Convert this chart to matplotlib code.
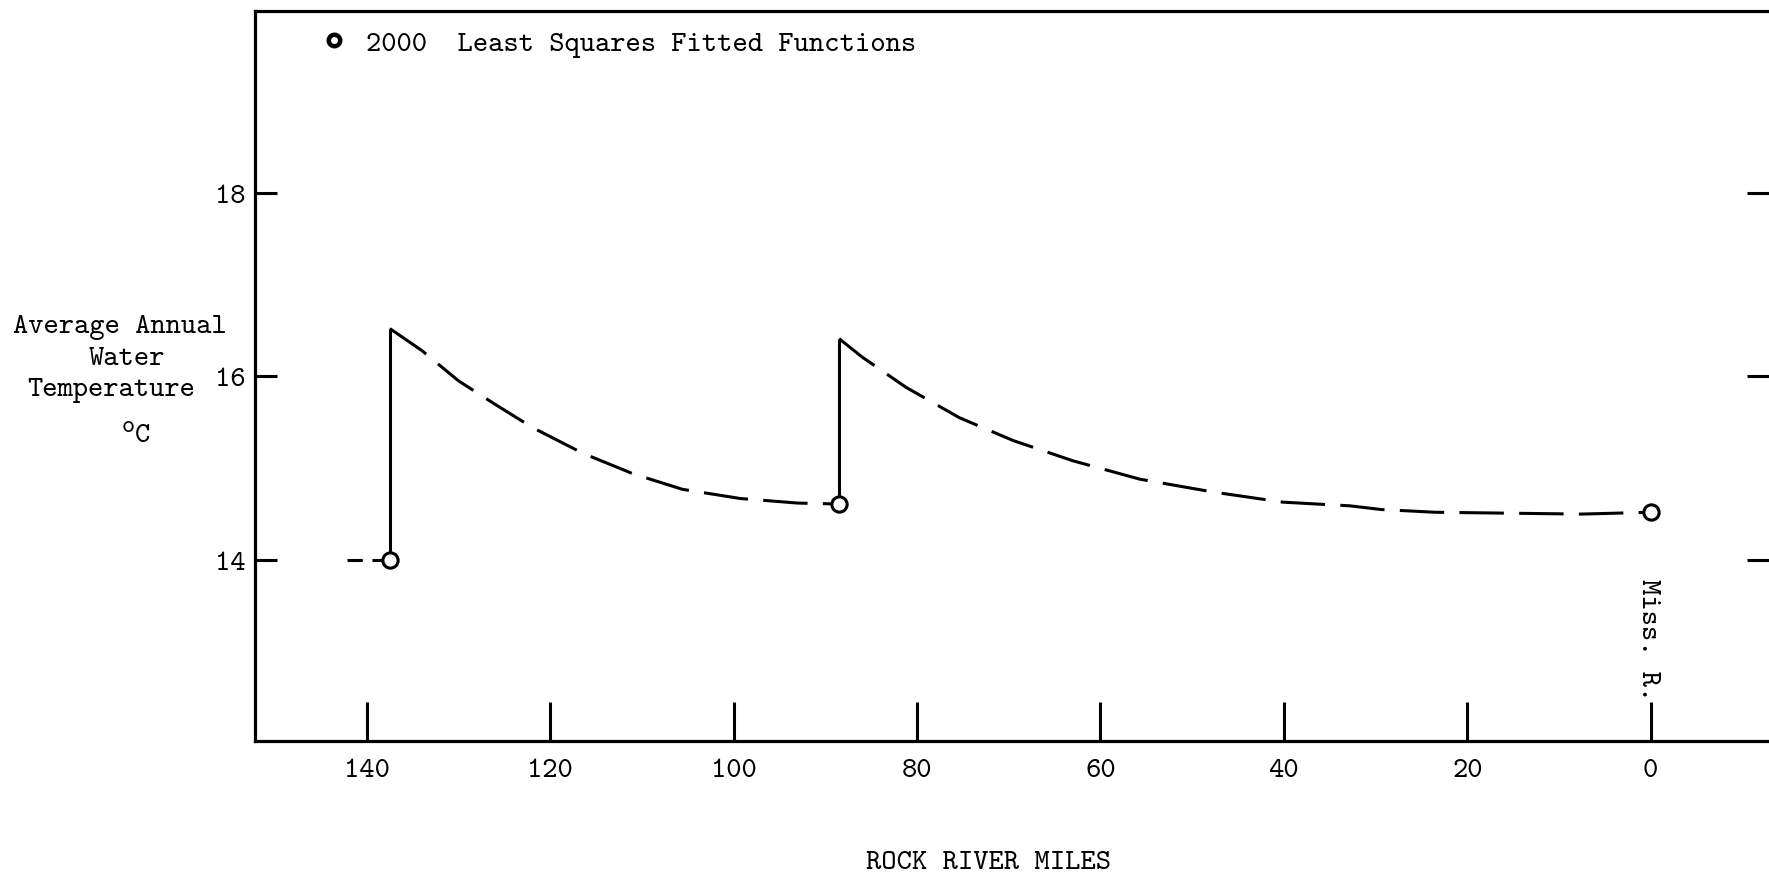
import matplotlib
matplotlib.use("Agg")
import matplotlib.pyplot as plt

plt.rcParams["font.family"] = ["cmtt10", "DejaVu Sans Mono"]
plt.rcParams["font.size"] = 21
plt.rcParams["lines.scale_dashes"] = False

# values (river miles, deg C)
tail_miles = [142.2, 137.5]
tail_temp = [14.0, 14.0]

jump_miles = [137.5, 88.5]
jump_low = [14.0, 14.61]
jump_high = [16.52, 16.41]

curve1_miles = [137.5, 134.0, 130.0, 126.1, 121.9, 116.4, 111.0, 105.6, 99.3, 93.0, 88.5]
curve1_temp = [16.52, 16.28, 15.95, 15.70, 15.44, 15.16, 14.94, 14.77, 14.67, 14.62, 14.61]

curve2_miles = [88.5, 86.0, 81.2, 75.4, 69.5, 63.0, 55.7, 47.7, 40.1, 32.8, 29.4, 23.5, 15.5, 7.6, 0.0]
curve2_temp = [16.41, 16.21, 15.88, 15.55, 15.30, 15.08, 14.88, 14.74, 14.63, 14.59, 14.55, 14.52, 14.51, 14.50, 14.52]

obs_miles = [137.5, 88.5, 0.0]
obs_temp = [14.0, 14.61, 14.52]

xticks = [140, 120, 100, 80, 60, 40, 20, 0]
yticks = [14, 16, 18]

W, H = 1769, 879
fig = plt.figure(figsize=(W / 100, H / 100), dpi=100)
ax = fig.add_axes([255 / W, 1 - 742 / H, 1 - 255 / W, (742 - 11.7) / H])

lw = 2.2
ax.plot(tail_miles, tail_temp, color="black", lw=lw, dashes=(11, 7))
ax.vlines(jump_miles, jump_low, jump_high, color="black", lw=lw)
ax.plot(curve1_miles, curve1_temp, color="black", lw=lw, dashes=(32, 11))
ax.plot(curve2_miles, curve2_temp, color="black", lw=lw, dashes=(32, 11))
ax.plot(obs_miles, obs_temp, "o", mfc="white", mec="black", ms=11, mew=2.2,
        label="2000  Least Squares Fitted Functions", zorder=5)

ax.set_xlim(152.2, -12.9)
ax.set_ylim(12.03, 19.98)
ax.set_xticks(xticks)
ax.set_xticklabels([str(t) for t in xticks])
ax.set_yticks(yticks)
ax.set_yticklabels([str(t) for t in yticks])

for side in ["left", "bottom", "top"]:
    ax.spines[side].set_linewidth(2.3)
ax.spines["right"].set_visible(False)

ax.tick_params(axis="x", direction="in", length=28, width=2.2, pad=12)
ax.tick_params(axis="y", direction="in", length=16, width=2.2, pad=7,
               right=True, labelright=False)

ax.text(0.3, 13.14, "Miss. R.", rotation=270, ha="center", va="center")

leg = ax.legend(loc="center left", bbox_to_anchor=(322 / W, 1 - 44 / H),
                bbox_transform=fig.transFigure, frameon=False, borderpad=0,
                borderaxespad=0, handlelength=0.8, handletextpad=0.7,
                markerscale=0.75)
leg.legend_handles[0].set_markeredgewidth(3.2)

fig.text(120 / W, 1 - 328 / H, "Average Annual", ha="center", va="center")
fig.text(127 / W, 1 - 360 / H, "Water", ha="center", va="center")
fig.text(111 / W, 1 - 391 / H, "Temperature", ha="center", va="center")
fig.text(128 / W, 1 - 427 / H, "o", ha="center", va="center", fontsize=18)
fig.text(143 / W, 1 - 437 / H, "C", ha="center", va="center")

fig.text(988 / W, 1 - 864 / H, "ROCK RIVER MILES", ha="center", va="center")

fig.savefig("out.png", dpi=100)
